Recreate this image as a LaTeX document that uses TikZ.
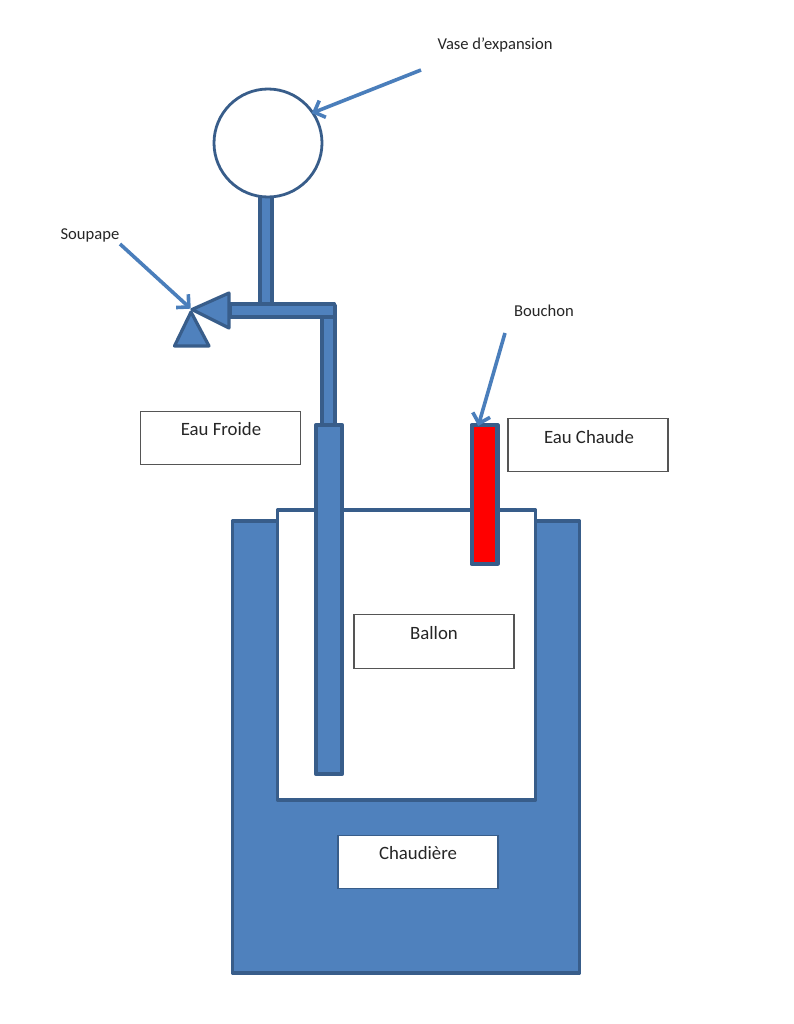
\documentclass[tikz,border=0pt]{standalone}
\usepackage{fontspec}
\setmainfont{Carlito}
\usetikzlibrary{arrows.meta}
\definecolor{fillblue}{HTML}{4F81BD}
\definecolor{edgeblue}{HTML}{385D8A}
\definecolor{arrowblue}{HTML}{4A7EBB}
\definecolor{boxedge}{HTML}{555555}
\tikzset{
  solidpart/.style={rectangle,draw=edgeblue,fill=fillblue,line width=3.6pt,line join=round,inner sep=0pt,outer sep=0pt},
  hollowpart/.style={solidpart,fill=white,line width=3.2pt},
  vesselpart/.style={solidpart,circle,fill=white,line width=2.8pt},
  plugpart/.style={solidpart,fill=red,line width=4.5pt},
  labelbox/.style={rectangle,draw=boxedge,fill=white,line width=1.3pt,inner sep=0pt,outer sep=0pt,minimum width=160pt,minimum height=53.5pt},
  boxtext/.style={font=\fontsize{18.8}{22}\selectfont,text=black!85,inner sep=0pt},
  smalltext/.style={font=\fontsize{16.6}{19}\selectfont,text=black!85,inner sep=0pt},
  callout/.style={draw=arrowblue,line width=3.6pt,shorten >=-1pt,-{Straight Barb[length=9pt,width=18pt,line width=3.6pt]}},
  valvepart/.style={draw=edgeblue,fill=fillblue,line width=3.2pt,line join=round}
}
\begin{document}
\begin{tikzpicture}[x=1pt,y=-1pt]
\useasboundingbox (0,0) rectangle (793,1024);
\fill[white] (0,0) rectangle (793,1024);
% boiler and tank
\node[solidpart,minimum width=347pt,minimum height=452pt] (chaudiere) at (406,747) {};
\node[hollowpart,minimum width=258pt,minimum height=290pt] (ballon) at (406.5,655) {};
% expansion vessel and pipes
\node[solidpart,minimum width=12.5pt,minimum height=108pt] (riser) at (266,250) {};
\node[vesselpart,minimum size=108pt] (vase) at (268,143) {};
\node[solidpart,minimum width=13pt,minimum height=120pt] (drop) at (328.5,365) {};
\node[solidpart,minimum width=104pt,minimum height=12.5pt] (branch) at (282.5,310.5) {};
\node[solidpart,minimum width=26.5pt,minimum height=349pt] (plongeur) at (329,599.5) {};
\node[plugpart,minimum width=25.5pt,minimum height=139pt] (bouchon) at (484.5,494.5) {};
% valve
\draw[valvepart] (229,293) -- (229,328) -- (192,309.5) -- cycle;
\draw[valvepart] (191,312) -- (174.5,346) -- (209,346) -- cycle;
\coordinate (valvetip) at (190,308);
% boxes
\node[labelbox] (boxfroide) at (220.5,438) {};
\node[boxtext] (tfroide) at (221,429) {Eau Froide};
\node[labelbox] (boxchaude) at (588,445) {};
\node[boxtext] (tchaude) at (589,437) {Eau Chaude};
\node[labelbox] (boxballon) at (434,641.5) {};
\node[boxtext] (tballon) at (434,633) {Ballon};
\node[labelbox,draw=edgeblue] (boxchaudiere) at (418,862) {};
\node[boxtext] (tchaudiere) at (418,853) {Chaudière};
% callouts
\node[smalltext] (tvase) at (495,45) {Vase d’expansion};
\node[smalltext] (tsoupape) at (90,235) {Soupape};
\node[smalltext] (tbouchon) at (544,311) {Bouchon};
\coordinate (startvase) at (421,70);
\coordinate (startsoupape) at (120,244);
\coordinate (startbouchon) at (505,333);
\coordinate (endbouchon) at ([xshift=-6pt]bouchon.north);
\draw[callout] (startvase) -- (vase.34);
\draw[callout] (startsoupape) -- (valvetip);
\draw[callout] (startbouchon) -- (endbouchon);
\end{tikzpicture}
\end{document}
